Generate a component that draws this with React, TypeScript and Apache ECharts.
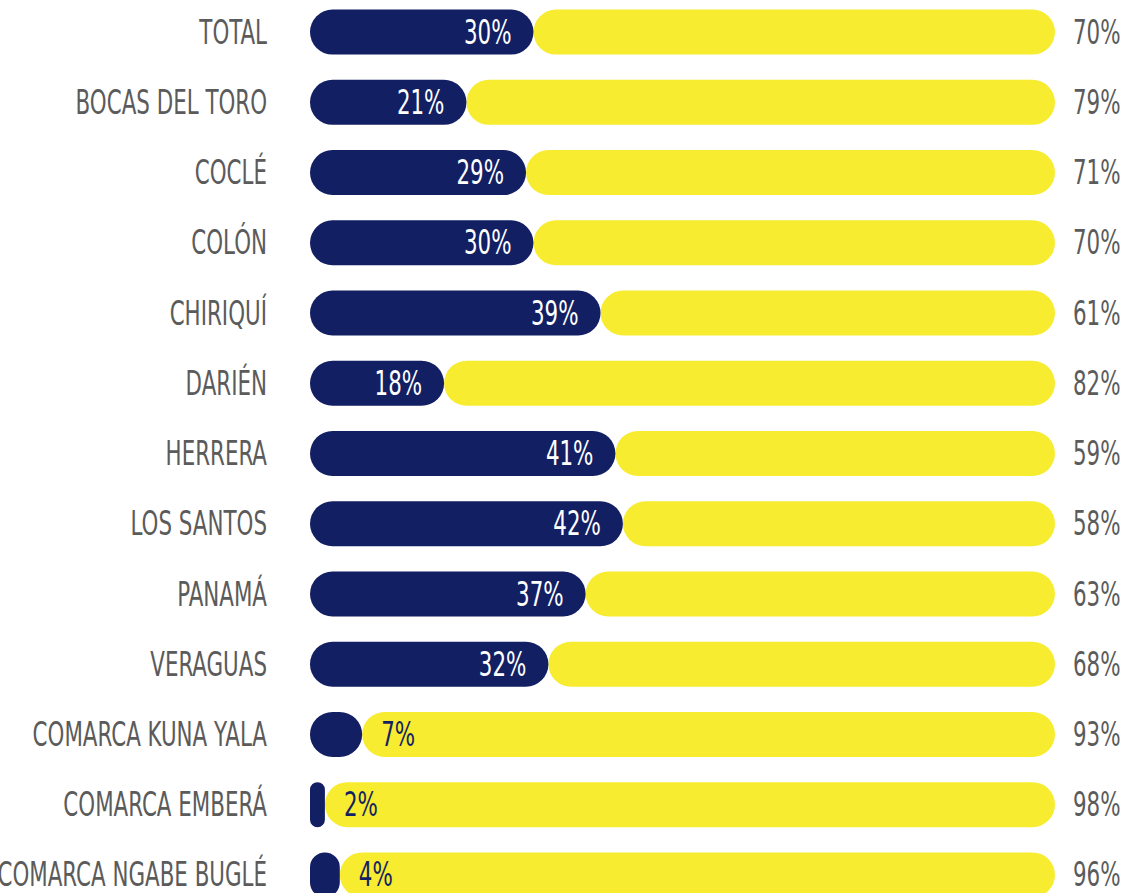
import React, { useEffect, useRef } from "react";
import * as echarts from "echarts";

const categories = [
  "TOTAL",
  "BOCAS DEL TORO",
  "COCLÉ",
  "COLÓN",
  "CHIRIQUÍ",
  "DARIÉN",
  "HERRERA",
  "LOS SANTOS",
  "PANAMÁ",
  "VERAGUAS",
  "COMARCA KUNA YALA",
  "COMARCA EMBERÁ",
  "COMARCA NGABE BUGLÉ",
];
const blueValues = [30, 21, 29, 30, 39, 18, 41, 42, 37, 32, 7, 2, 4];
const yellowValues = [70, 79, 71, 70, 61, 82, 59, 58, 63, 68, 93, 98, 96];

const NAVY = "#131f63";
const YELLOW = "#f7ec2f";
const GRAY = "#5b5b5b";
const FONT = "'DejaVu Sans Condensed', 'Liberation Sans Narrow', sans-serif";
const FS = 34;
const SX = 0.7;

export default function App() {
  const ref = useRef<HTMLDivElement>(null);
  useEffect(() => {
    document.body.style.margin = "0";
    const chart = echarts.init(ref.current!, undefined, { renderer: "svg" });
    chart.setOption({
      animation: false,
      backgroundColor: "#ffffff",
      grid: { left: 310, width: 745, top: -3, bottom: -17, containLabel: false, outerBoundsMode: "none" },
      xAxis: { type: "value", min: 0, max: 100, show: false },
      yAxis: {
        type: "category",
        data: categories,
        inverse: true,
        axisLine: { show: false },
        axisTick: { show: false },
        axisLabel: { show: false },
      },
      series: [
        {
          name: "blue",
          type: "bar",
          stack: "s",
          barWidth: 45,
          itemStyle: { color: NAVY, borderRadius: 23 },
          data: blueValues,
          z: 3,
        },
        {
          name: "yellow",
          type: "bar",
          stack: "s",
          barWidth: 45,
          itemStyle: { color: YELLOW, borderRadius: 23 },
          data: yellowValues,
          z: 2,
        },
      ],
    });

    const px = (v: number, i: number) =>
      chart.convertToPixel({ gridIndex: 0 }, [v, i]) as number[];
    const txt = (x: number, y: number, text: string, align: string, fill: string) => ({
      type: "text",
      x,
      y,
      scaleX: SX,
      z: 100,
      silent: true,
      style: {
        text,
        align,
        verticalAlign: "middle",
        fill,
        fontSize: FS,
        fontFamily: FONT,
      },
    });
    const graphics: any[] = [];
    categories.forEach((c, i) => {
      const [x0, y] = px(0, i);
      graphics.push(txt(x0 - 43, y, c, "right", GRAY));
      const b = blueValues[i];
      const [xb] = px(b, i);
      if (b >= 10) graphics.push(txt(xb - 22, y, b + "%", "right", "#ffffff"));
      else graphics.push(txt(xb + 19, y, b + "%", "left", NAVY));
      const [xe] = px(b + yellowValues[i], i);
      graphics.push(txt(xe + 18, y, yellowValues[i] + "%", "left", GRAY));
    });
    chart.setOption({ graphic: graphics });
    return () => chart.dispose();
  }, []);
  return <div ref={ref} style={{ width: 1142, height: 893 }} />;
}
